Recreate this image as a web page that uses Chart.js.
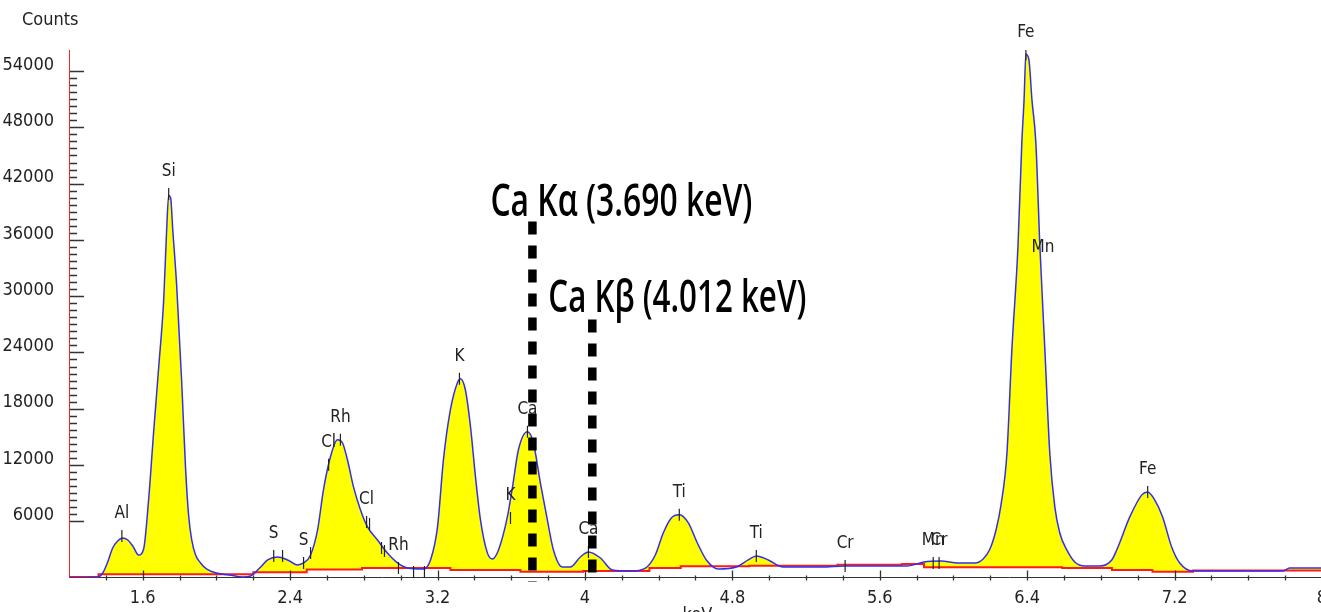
<!DOCTYPE html>
<html>
<head>
<meta charset="utf-8">
<title>EDXRF spectrum</title>
<script src="https://cdn.jsdelivr.net/npm/chart.js@4.4.1/dist/chart.umd.min.js"></script>
<style>
  html, body { margin: 0; padding: 0; background: #fff; overflow: hidden; }
  canvas { display: block; }
</style>
</head>
<body>
<canvas id="spectrum" width="1340" height="612"></canvas>
<script>
const energyKeV = [
  1.20, 1.356, 1.383, 1.410, 1.437, 1.464, 1.491, 1.519, 1.546, 1.578,
  1.605, 1.632, 1.659, 1.687, 1.714, 1.730, 1.741, 1.752, 1.763, 1.784,
  1.811, 1.833, 1.849, 1.866, 1.887, 1.914, 1.946, 2.001, 2.071, 2.142,
  2.186, 2.240, 2.278, 2.332, 2.386, 2.440, 2.473, 2.511, 2.549, 2.581,
  2.619, 2.657, 2.684, 2.711, 2.744, 2.782, 2.820, 2.874, 2.928, 2.983,
  3.037, 3.124, 3.162, 3.200, 3.232, 3.270, 3.308, 3.324, 3.351, 3.379,
  3.406, 3.433, 3.471, 3.498, 3.531, 3.579, 3.607, 3.639, 3.688, 3.720,
  3.758, 3.796, 3.829, 3.878, 3.921, 3.975, 4.019, 4.084, 4.149, 4.247,
  4.328, 4.382, 4.425, 4.469, 4.512, 4.561, 4.610, 4.659, 4.724, 4.821,
  4.886, 4.930, 4.995, 5.076, 5.282, 5.412, 5.748, 5.840, 5.932, 6.025,
  6.117, 6.161, 6.198, 6.231, 6.258, 6.290, 6.317, 6.350, 6.371, 6.383,
  6.393, 6.409, 6.426, 6.447, 6.469, 6.496, 6.523, 6.550, 6.577, 6.615,
  6.658, 6.713, 6.794, 6.859, 6.886, 6.957, 7.022, 7.054, 7.092, 7.135,
  7.184, 7.228, 7.298, 7.786, 7.824, 8.000
];
const spectrumCounts = [
  0, 50, 480, 1660, 3150, 3900, 4220, 4000, 3360, 2400,
  3040, 8280, 15430, 22480, 29640, 37110, 40740, 40420, 37110, 31240,
  21090, 11480, 6670, 4000, 2400, 1550, 910, 480, 270, 50,
  160, 1120, 1870, 2190, 1870, 1340, 1550, 2400, 5070, 9350,
  12870, 14690, 14370, 12550, 9670, 7210, 5400, 4000, 2600, 1550,
  1010, 910, 1870, 5400, 12550, 17890, 20770, 21200, 20020, 16070,
  10730, 6140, 2600, 1980, 2940, 6460, 9670, 13620, 15540, 14370,
  10090, 6140, 2940, 1120, 1120, 2190, 2720, 2080, 800, 690,
  1010, 2400, 4750, 6350, 6680, 5820, 3680, 1870, 910, 1120,
  1870, 2300, 1870, 1120, 1120, 1230, 1230, 1660, 1760, 1550,
  1550, 1980, 3040, 5070, 7740, 13190, 24300, 35300, 46400, 50900,
  55800, 55270, 50900, 46400, 35300, 24300, 13190, 7530, 4750, 2940,
  1660, 1230, 1230, 1870, 2940, 6460, 8810, 9130, 8280, 6460,
  3260, 1550, 690, 690, 1010, 1010
];

// background (red step line)
const backgroundKeV = [1.20, 1.36, 2.20, 2.49, 2.79, 3.27, 3.65, 3.99, 4.35, 4.52,
  4.89, 5.37, 5.72, 5.84, 6.59, 6.86, 7.08, 7.30, 7.79, 8.00];
const backgroundCounts = [0, 60, 350, 550, 850, 1000, 800, 620, 700, 1000,
  1200, 1250, 1350, 1450, 1100, 1000, 800, 600, 750, 750];

// element line markers
const peakKeV = [1.487, 1.741, 2.311, 2.359, 2.473, 2.511, 2.609, 2.673, 2.815, 2.831,
  2.896, 2.912, 2.988, 3.070, 3.129, 3.319, 3.596, 3.688, 4.019, 4.512,
  4.930, 5.412, 5.890, 5.922, 6.393, 6.486, 7.054];
const peakCounts = [4430, 40900, 2300, 2300, 1550, 2620, 12020, 14690, 5930, 5710,
  3150, 2830, 1010, 590, 590, 21200, 6350, 15540, 2720, 6680,
  2300, 1230, 1550, 1550, 55800, 32870, 9130];
const peakLabels = ["Al", "Si", "S", "", "S", "", "Cl", "Rh", "Cl", "",
  "", "", "Rh", "", "", "K", "K", "Ca", "Ca", "Ti",
  "Ti", "Cr", "Mn", "Cr", "Fe", "Mn", "Fe"];
const peakHasTick = [1, 1, 1, 1, 1, 1, 1, 1, 1, 1,
  1, 1, 1, 1, 1, 1, 1, 1, 1, 1,
  1, 1, 1, 1, 1, 0, 1];

// Ca annotation lines
const caLineKeV = [3.715, 4.040];
const caLineTop = [37970, 27500];
const caLineBottom = -480;
const caLineText = ["Ca K\u03b1 (3.690 keV)", "Ca K\u03b2 (4.012 keV)"];

// axis ticks
const xTickValues = [1.6, 2.4, 3.2, 4.0, 4.8, 5.6, 6.4, 7.2, 8.0];
const xTickLabels = ["1.6", "2.4", "3.2", "4", "4.8", "5.6", "6.4", "7.2", "8"];
const yTickValues = [6000, 12000, 18000, 24000, 30000, 36000, 42000, 48000, 54000];
const yTickLabels = ["6000", "12000", "18000", "24000", "30000", "36000", "42000", "48000", "54000"];

const narrowFont = '"Liberation Sans Narrow", "Arial Narrow", "DejaVu Sans Condensed", sans-serif';

function xLabelFor(value) {
  const i = xTickValues.findIndex((v) => Math.abs(v - value) < 1e-6);
  return i >= 0 ? xTickLabels[i] : "";
}
function yLabelFor(value) {
  const i = yTickValues.indexOf(Math.round(value));
  return i >= 0 ? yTickLabels[i] : "";
}

const overlayPlugin = {
  id: "overlay",
  afterDraw(chart) {
    const { ctx, chartArea } = chart;
    const x = chart.scales.x;
    const y = chart.scales.y;
    ctx.save();

    // tick marks (drawn inside the plot like the instrument software)
    ctx.strokeStyle = "#333";
    ctx.lineWidth = 1.3;
    ctx.beginPath();
    y.ticks.forEach((t) => {
      if (t.value < yTickValues[0] || t.value > yTickValues[yTickValues.length - 1]) return;
      const py = Math.round(y.getPixelForValue(t.value)) + 0.5;
      const len = yLabelFor(t.value) ? 15 : 8;
      ctx.moveTo(chartArea.left + 1, py);
      ctx.lineTo(chartArea.left + len, py);
    });
    x.ticks.forEach((t) => {
      if (t.value <= x.min + 1e-6) return;
      const px = Math.round(x.getPixelForValue(t.value)) + 0.5;
      const major = xLabelFor(t.value) !== "";
      ctx.moveTo(px, chartArea.bottom - (major ? 7 : 2));
      ctx.lineTo(px, chartArea.bottom + 3);
    });
    ctx.stroke();

    // element labels
    ctx.fillStyle = "#222";
    ctx.font = "17px " + narrowFont;
    ctx.textAlign = "center";
    ctx.textBaseline = "middle";
    peakLabels.forEach((lab, i) => {
      if (!lab) return;
      const px = x.getPixelForValue(peakKeV[i]);
      const py = y.getPixelForValue(peakCounts[i]);
      ctx.fillText(lab, px, py - 22);
    });

    // axis captions
    ctx.font = "18px " + narrowFont;
    ctx.textAlign = "left";
    ctx.fillText("Counts", 22, 20);
    ctx.textAlign = "center";
    ctx.textBaseline = "top";
    ctx.fillText("keV", x.getPixelForValue(4.61), 606);

    // Ca annotations
    ctx.fillStyle = "#000";
    ctx.font = "600 46px \"Open Sans\", sans-serif";
    ctx.textAlign = "left";
    ctx.textBaseline = "alphabetic";
    caLineText.forEach((txt, i) => {
      const px = x.getPixelForValue(caLineKeV[i]);
      const py = y.getPixelForValue(caLineTop[i]);
      const w = ctx.measureText(txt).width;
      const target = i === 0 ? 262 : 258;
      ctx.save();
      ctx.translate(px - (i === 0 ? 42 : 44), py - (i === 0 ? 5 : 8));
      ctx.scale(target / w, 1);
      ctx.fillText(txt, 0, 0);
      ctx.restore();
    });
    ctx.restore();
  },
};

const spectrumData = energyKeV.map((e, i) => ({ x: e, y: spectrumCounts[i] }));
const backgroundData = backgroundKeV.map((e, i) => ({ x: e, y: backgroundCounts[i] }));
const markerData = peakKeV.map((e, i) => ({ x: e, y: peakCounts[i] }));

const caDatasets = caLineKeV.map((e, i) => ({
  data: [{ x: e, y: caLineTop[i] }, { x: e, y: caLineBottom }],
  borderColor: "#000",
  borderWidth: 8.5,
  borderDash: [13, 11],
  pointRadius: 0,
  clip: false,
  order: 0,
}));

new Chart(document.getElementById("spectrum"), {
  type: "line",
  data: {
    datasets: [
      {
        data: spectrumData,
        borderColor: "#2f2ff2",
        borderWidth: 1.5,
        pointRadius: 0,
        cubicInterpolationMode: "monotone",
        fill: { target: 1, above: "#ffff00", below: "rgba(0,0,0,0)" },
        order: 2,
      },
      {
        data: backgroundData,
        borderColor: "#ff1a1a",
        borderWidth: 2,
        stepped: "after",
        pointRadius: 0,
        fill: false,
        order: 3,
      },
      {
        data: markerData,
        showLine: false,
        pointStyle: "line",
        pointRotation: 90,
        pointRadius: peakHasTick.map((t) => (t ? 6 : 0)),
        pointBorderColor: "#222",
        pointBorderWidth: 1.2,
        order: 1,
      },
      ...caDatasets,
    ],
  },
  options: {
    responsive: false,
    animation: false,
    events: [],
    layout: { padding: { top: 50, right: 18, left: 0, bottom: 0 } },
    plugins: {
      legend: { display: false },
      tooltip: { enabled: false },
      filler: { drawTime: "beforeDatasetsDraw" },
    },
    scales: {
      x: {
        type: "linear",
        min: 1.2,
        max: 8.0,
        afterFit: (scale) => { scale.height = 34.5; },
        grid: { display: false, drawTicks: false },
        border: { color: "#333", width: 1 },
        ticks: {
          stepSize: 0.2,
          autoSkip: false,
          maxRotation: 0,
          padding: 10,
          color: "#222",
          font: { family: narrowFont, size: 18 },
          callback: (v) => xLabelFor(v),
        },
      },
      y: {
        min: 0,
        max: 56250,
        afterFit: (scale) => { scale.width = 69; },
        grid: { display: false, drawTicks: false },
        border: { color: "#ff2020", width: 1 },
        ticks: {
          stepSize: 750,
          autoSkip: false,
          padding: 15,
          labelOffset: -6,
          color: "#222",
          font: { family: narrowFont, size: 18 },
          callback: (v) => yLabelFor(v),
        },
      },
    },
  },
  plugins: [overlayPlugin],
});
</script>
</body>
</html>
